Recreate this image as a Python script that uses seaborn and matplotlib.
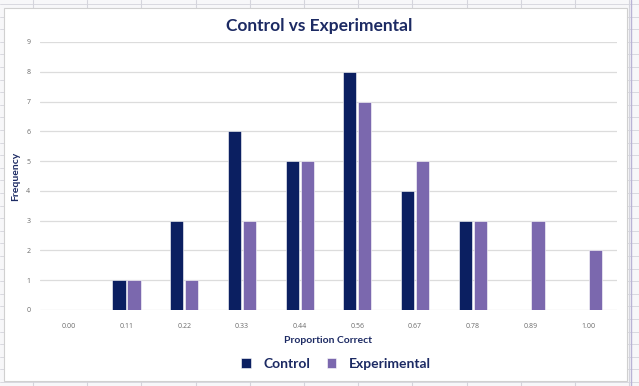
import numpy as np
import pandas as pd
import seaborn as sns
import matplotlib.pyplot as plt
from matplotlib.patches import Rectangle
from matplotlib.lines import Line2D

# data
bins = ["0.00", "0.11", "0.22", "0.33", "0.44", "0.56", "0.67", "0.78", "0.89", "1.00"]
control = [0, 1, 3, 6, 5, 8, 4, 3, 0, 0]
experimental = [0, 1, 1, 3, 5, 7, 5, 3, 3, 2]

navy = "#0b1f61"
purple = "#7b68ae"
title_col = "#1c2a63"

df = pd.DataFrame({
    "bin": bins * 2,
    "freq": control + experimental,
    "group": ["Control"] * len(bins) + ["Experimental"] * len(bins),
})

sns.set_style("white")
plt.rcParams["font.family"] = ["Lato", "DejaVu Sans"]

W, H = 639, 386
fig = plt.figure(figsize=(W / 100, H / 100), dpi=100)
fig.patch.set_facecolor("#f7f7f9")

# spreadsheet grid behind the chart
for x in np.arange(33, W, 54.2):
    fig.add_artist(Line2D([x / W, x / W], [0, 1], color="#d4d4dc", lw=0.8, zorder=-3))
for y in np.arange(4, H, 12.6):
    fig.add_artist(Line2D([0, 1], [y / H, y / H], color="#d4d4dc", lw=0.6, zorder=-3))
fig.add_artist(Line2D([631 / W, 631 / W], [0, 1], color="#b9b3d6", lw=1.0, zorder=-3))

# chart area
fig.add_artist(Rectangle((4 / W, (H - 381) / H), 623 / W, 373 / H,
                         facecolor="white", edgecolor="#d0d0d0", lw=0.8, zorder=-2))

ax = fig.add_axes([40 / W, (H - 310) / H, 577 / W, 268 / H])
ax.patch.set_alpha(0)
sns.barplot(data=df, x="bin", y="freq", hue="group", order=bins,
            palette=[navy, purple], saturation=1, width=0.52, gap=0.12,
            edgecolor="white", linewidth=0.4, ax=ax, zorder=3)

ax.set_ylim(0, 9)
ax.set_xlim(-0.5, len(bins) - 0.5)
ax.set_yticks(range(10))
ax.grid(axis="y", color="#dcdcdc", lw=0.9, zorder=0)
ax.set_axisbelow(True)
for s in ax.spines.values():
    s.set_visible(False)
ax.tick_params(axis="both", length=0, labelsize=5, labelcolor="#6b6b6b")
ax.tick_params(axis="y", pad=7)
ax.tick_params(axis="x", pad=9)
for lab in ax.get_xticklabels() + ax.get_yticklabels():
    lab.set_family(["Open Sans", "DejaVu Sans"])

ax.set_xlabel("Proportion Correct", fontsize=7.5, fontweight="bold",
              color=title_col, labelpad=5)
ax.set_ylabel("Frequency", fontsize=7.5, fontweight="bold",
              color=title_col, labelpad=4)

fig.text(0.5, (H - 26) / H, "Control vs Experimental", ha="center", va="center",
         fontsize=12.5, fontweight="bold", color=title_col)

handles, labels = ax.get_legend_handles_labels()
ax.legend_.remove()
fig.legend(handles, labels, loc="center", bbox_to_anchor=(336 / W, (H - 364) / H),
           ncol=2, frameon=False, handlelength=0.7, handleheight=0.7,
           columnspacing=1.2, handletextpad=0.9,
           prop={"size": 10, "weight": "bold"}, labelcolor=title_col)

fig.savefig("out.png", dpi=100)
